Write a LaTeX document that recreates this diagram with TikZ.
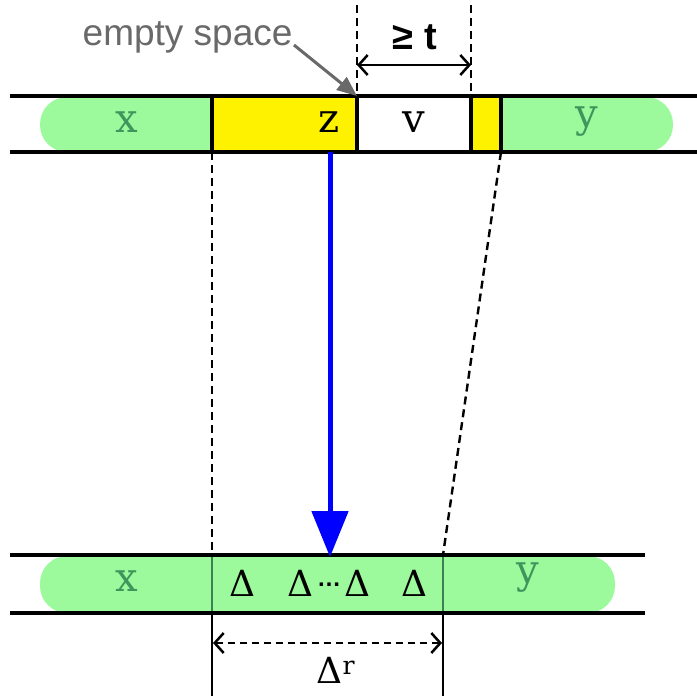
\documentclass[tikz,border=0pt]{standalone}
\usepackage{fontspec}
\setmainfont{DejaVu Serif}
\setsansfont{Liberation Sans}
\usetikzlibrary{arrows.meta}
\definecolor{cellgreen}{RGB}{156,250,156}
\definecolor{textgreen}{RGB}{62,150,92}
\definecolor{edgegreen}{RGB}{60,130,80}
\definecolor{notegray}{RGB}{105,105,105}
\tikzset{
  bar/.style={line width=3.5pt},
  guide/.style={line width=2.4pt,dash pattern=on 8pt off 5pt},
  cellname/.style={font=\fontsize{40}{44}\selectfont},
  span/.style={line width=2.5pt,{Straight Barb[length=9pt,width=20pt]}-{Straight Barb[length=9pt,width=20pt]}},
}
\begin{document}
\begin{tikzpicture}[x=1pt,y=-1pt]
    \useasboundingbox (0,0) rectangle (697,696);
    % top bar
    \fill[cellgreen,rounded corners=27pt] (40,97) rectangle (673,152);
    \fill[yellow] (212,96) rectangle (357,152);
    \fill[white] (357,96) rectangle (471,152);
    \fill[yellow] (471,96) rectangle (501,152);
    \draw[bar] (10,96) -- (697,96);
    \draw[bar] (10,152) -- (697,152);
    \foreach \xc in {212,357,471,501}
        \draw[bar] (\xc,96) -- (\xc,152);
    \node[cellname,textgreen] (topx) at (127,122) {x};
    \node[cellname] (topz) at (329,122) {z};
    \node[cellname] (topv) at (414,122) {v};
    \node[cellname,textgreen] (topy) at (587,122) {y};
    % gap width
    \coordinate (gapl) at (357,96);
    \coordinate (gapr) at (471,96);
    \draw[guide] (357,5) -- (gapl);
    \draw[guide] (471,5) -- (gapr);
    \draw[span] (357,65) -- (471,65);
    \node[font=\sffamily\bfseries\fontsize{38}{42}\selectfont] (gap) at (415,37) {≥ t};
    \node[font=\sffamily\fontsize{37}{40}\selectfont,text=notegray,anchor=east] (empty) at (296,37) {empty space};
    \draw[notegray,line width=3pt,-{Triangle[length=20pt,width=16pt]}] (empty.east) ++(-2,8) -- (gapl);
    % bottom bar
    \fill[cellgreen,rounded corners=27pt] (40,556) rectangle (615,613);
    \draw[edgegreen,line width=2.5pt] (212,556) -- (212,613);
    \draw[edgegreen,line width=2.5pt] (443,556) -- (443,613);
    \draw[bar] (10,555) -- (645,555);
    \draw[bar] (10,613) -- (645,613);
    \node[cellname,textgreen] (botx) at (127,581) {x};
    \node[cellname,textgreen] (boty) at (528,578) {y};
    \foreach \xd/\nm in {242/da,300/db,357/dc,414/dd}
        \node[font=\fontsize{36}{40}\selectfont] (\nm) at (\xd,583) {Δ};
    \node[font=\sffamily\bfseries\fontsize{24}{26}\selectfont,inner sep=0pt] (dots) at (329,585) {…};
    % mapping
    \draw[guide] (212,152) -- (212,555);
    \draw[guide] (501,152) -- (443,555);
    \draw[blue,line width=5pt,-{Triangle[length=46pt,width=36pt]}] (330,152) -- (330,557);
    % replacement width
    \draw[line width=2.5pt] (212,613) -- (212,696);
    \draw[line width=2.5pt] (443,613) -- (443,696);
    \draw[span,dash pattern=on 7pt off 5pt] (213,643) -- (442,643);
    \node[font=\fontsize{36}{40}\selectfont] (dr) at (336,670) {Δ\textsuperscript{r}};
\end{tikzpicture}
\end{document}
